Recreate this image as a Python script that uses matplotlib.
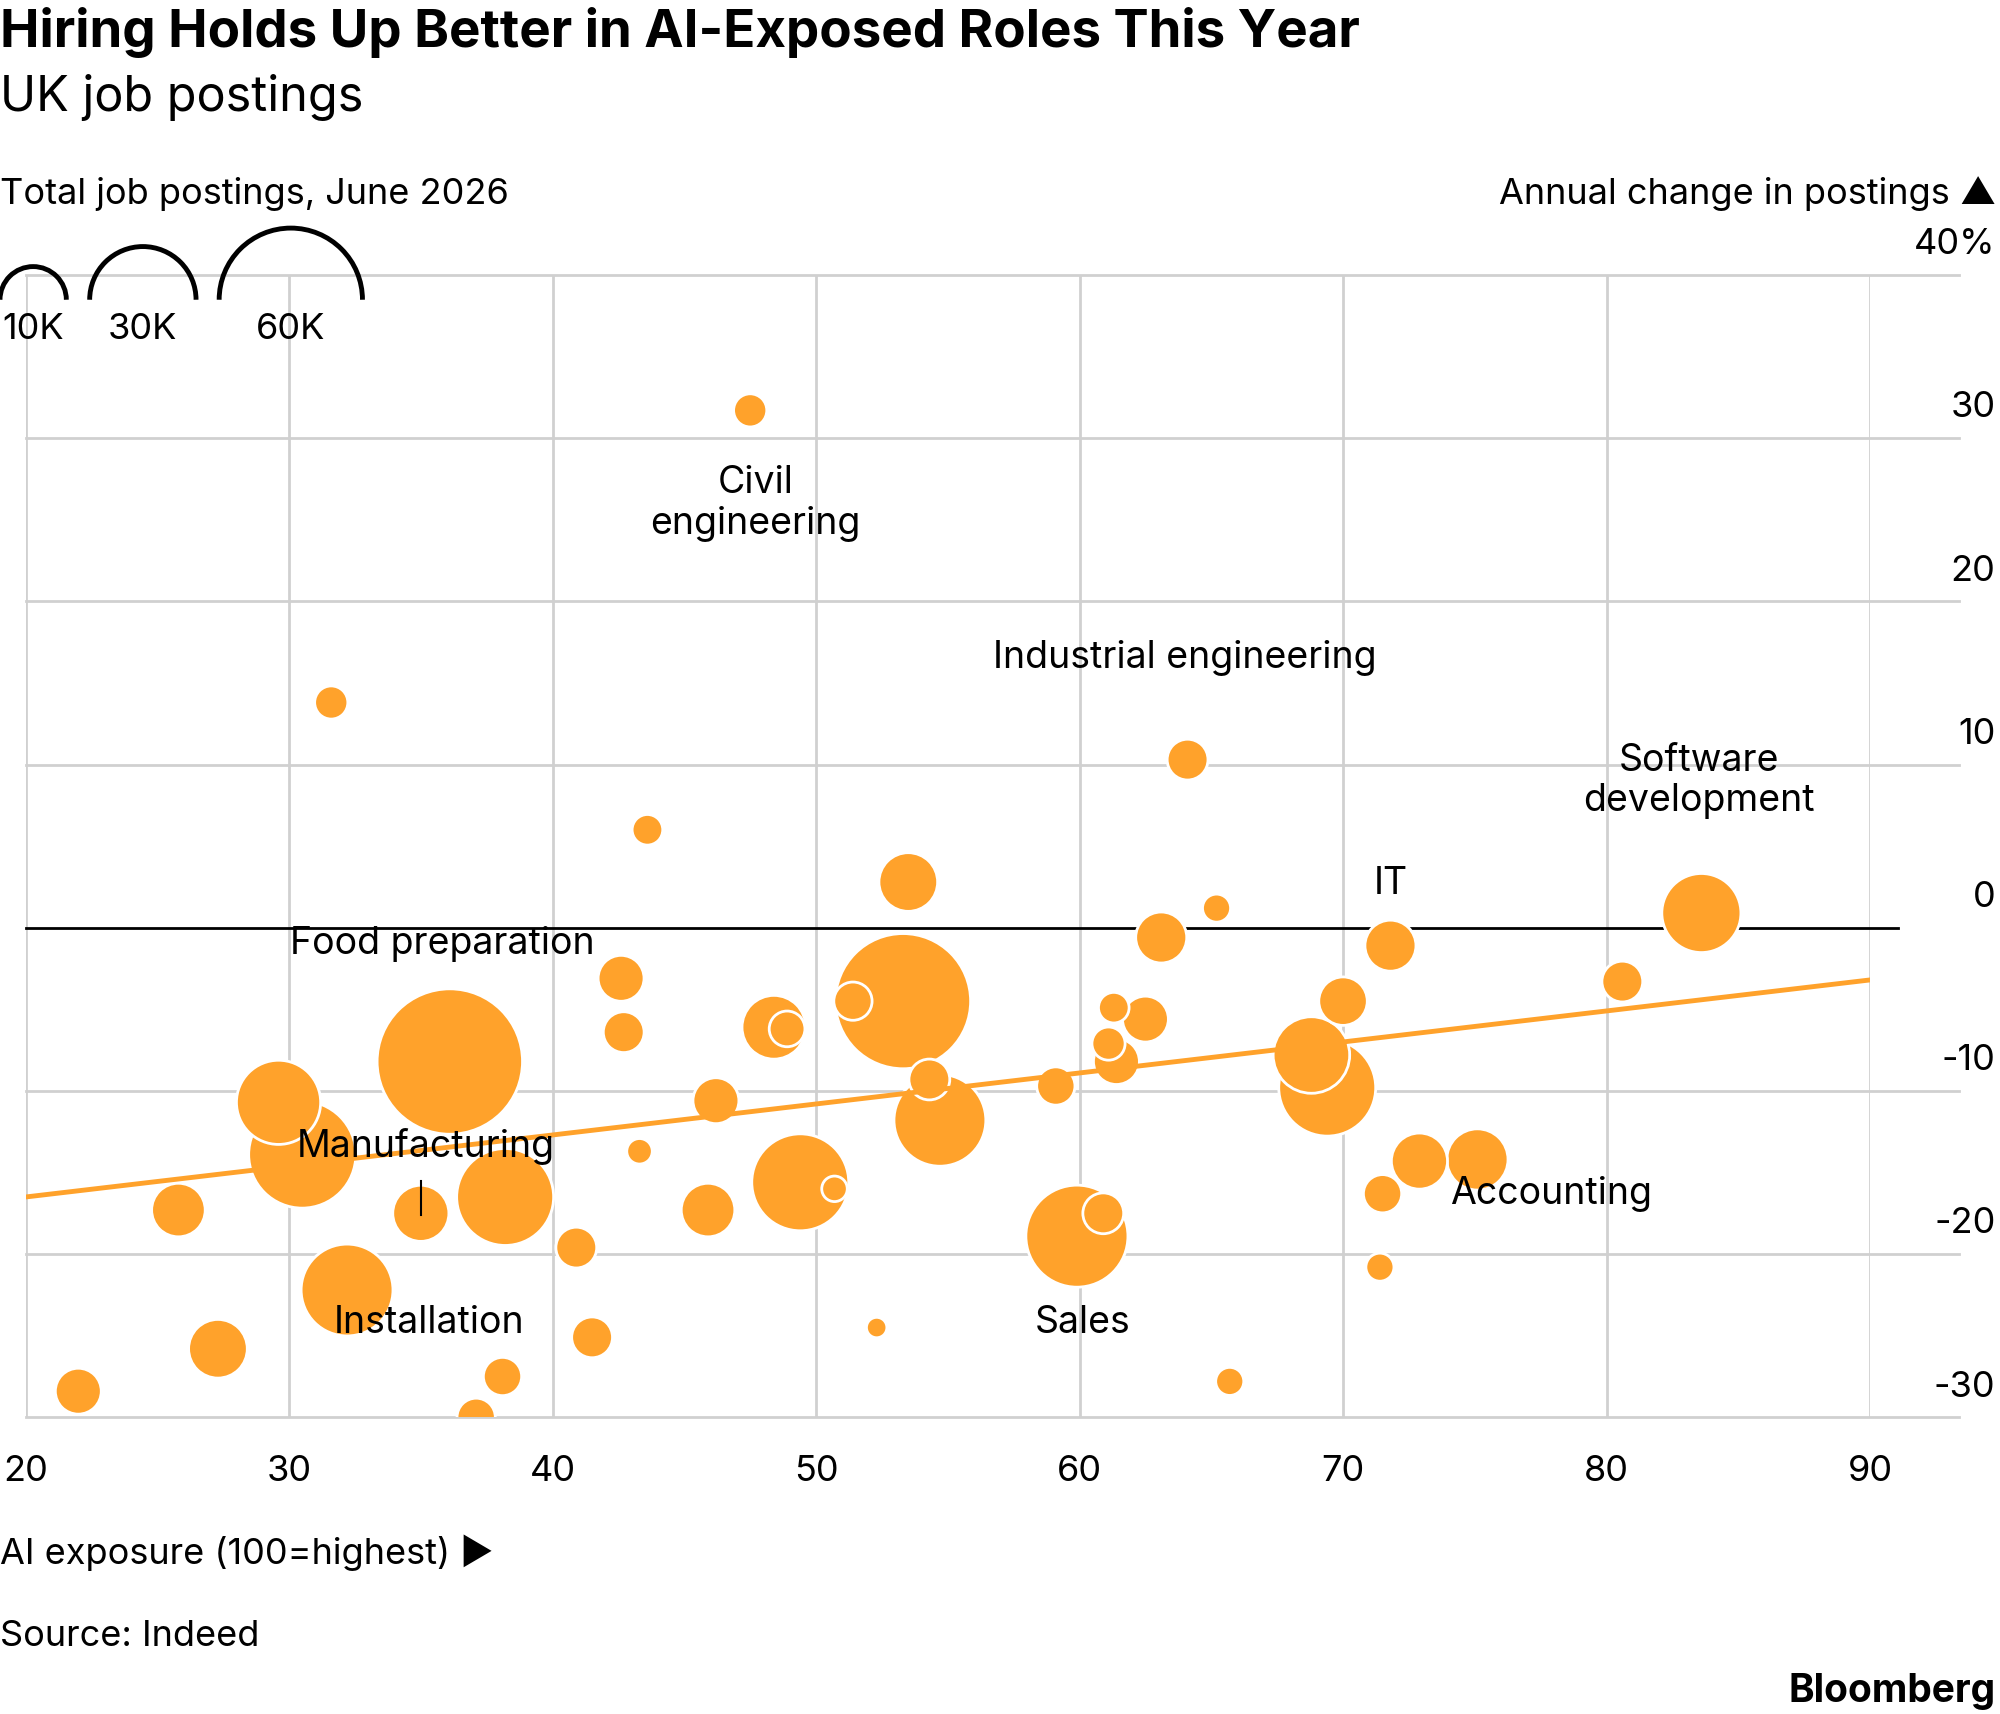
import numpy as np
import matplotlib
matplotlib.use("Agg")
import matplotlib.pyplot as plt
from matplotlib.patches import Arc

plt.rcParams['font.family'] = ['Inter', 'DejaVu Sans']

# AI exposure, annual change (%), bubble radius in reference pixels
exposure = [47.5, 31.6, 64.1, 43.6, 53.5, 65.2, 83.6, 71.8, 63.1, 80.6, 42.6, 42.7, 48.4, 48.9,
            51.4, 53.3, 70.0, 62.5, 61.3, 61.1, 61.4, 36.1, 68.8, 69.4, 54.3, 54.7, 59.1, 46.2,
            29.6, 30.5, 43.3, 49.4, 50.7, 72.9, 75.1, 71.5, 38.2, 35.0, 25.8, 45.9, 60.9, 59.9,
            40.9, 32.2, 71.4, 27.3, 41.5, 52.3, 38.1, 22.0, 65.7, 37.1]
change = [31.7, 13.8, 10.3, 6.0, 2.8, 1.2, 0.9, -1.1, -0.6, -3.3, -3.1, -6.4, -6.1, -6.2,
          -4.5, -4.5, -4.5, -5.6, -4.9, -7.1, -8.2, -8.2, -7.8, -9.8, -9.3, -11.8, -9.7, -10.6,
          -10.7, -13.9, -13.7, -15.6, -16.0, -14.3, -14.2, -16.3, -16.5, -17.5, -17.3, -17.3, -17.5, -18.9,
          -19.6, -22.2, -20.8, -25.8, -25.1, -24.5, -27.5, -28.4, -27.8, -30.0]
radii = [13, 13, 16, 12, 23, 11, 31, 20, 20, 16, 18, 16, 25, 14,
         15, 53, 19, 18, 12, 13, 18, 57, 30, 38, 16, 36, 15, 18,
         33, 42, 10, 38, 10, 22, 24, 15, 38, 22, 21, 21, 16, 40,
         16, 36, 11, 23, 16, 8, 15, 18, 11, 15]
postings = [10 * (r / 26) ** (1 / 0.43) for r in radii]  # thousands

trend_x = [20, 90]
trend_y = [-16.5, -3.2]

labels = [("Civil\nengineering", 47.7, 26.0), ("Industrial engineering", 64.0, 16.5),
          ("Software\ndevelopment", 83.5, 9.0), ("IT", 71.8, 2.7),
          ("Food preparation", 35.8, -1.0), ("Manufacturing", 35.2, -13.4),
          ("Accounting", 77.9, -16.3), ("Installation", 35.3, -24.2), ("Sales", 60.1, -24.2)]

ORANGE = "#ffa22b"
PX2PT = 1.2755 * 0.72


def radius_of(v):
    return 26 * (v / 10) ** 0.43


def size_of(v):
    r = radius_of(v) * PX2PT
    return (2 * r) ** 2


fig = plt.figure(figsize=(20, 17.14), dpi=100)
ax = fig.add_axes([0.0128, 0.1731, 0.9222, 0.6665])
ax.set_xlim(20, 90)
ax.set_ylim(-30, 40)
for s in ax.spines.values():
    s.set_visible(False)
ax.set_xticks([])
ax.set_yticks([])
for x in range(20, 91, 10):
    ax.axvline(x, color="#d0d0d0", lw=2, zorder=0)
for y in range(-30, 41, 10):
    if y != 0:
        ax.axhline(y, color="#d0d0d0", lw=2, zorder=0, xmax=1.048, clip_on=False)
ax.axhline(0, color="black", lw=2, zorder=1, xmax=1.015, clip_on=False)

order = np.argsort(postings)[::-1]
ax.scatter(np.array(exposure)[order], np.array(change)[order],
           s=[size_of(postings[i]) for i in order], color=ORANGE,
           edgecolor="white", linewidth=2, zorder=3)
ax.plot(trend_x, trend_y, color=ORANGE, lw=3.5, zorder=4)

for t, x, y in labels:
    ax.text(x, y, t, fontsize=27, ha="center", va="center", zorder=5, linespacing=1.15)
ax.plot([35, 35], [-15.5, -17.6], color="black", lw=1.5, zorder=5)

for y in range(-30, 41, 10):
    lab = f"{y}%" if y == 40 else str(y)
    ax.text(1.068, (y + 30) / 70 + 0.012, lab, transform=ax.transAxes, fontsize=26,
            ha="right", va="bottom")
for x in range(20, 91, 10):
    ax.text(x, -33.3, str(x), fontsize=26, ha="center", va="center")

fig.text(0.0, 0.981, "Hiring Holds Up Better in AI-Exposed Roles This Year", fontsize=38,
         fontweight="bold", va="center")
fig.text(0.0, 0.943, "UK job postings", fontsize=35, va="center")
fig.text(0.0, 0.887, "Total job postings, June 2026", fontsize=26, va="center")
fig.text(0.998, 0.887, "Annual change in postings \u25B2", fontsize=26, va="center", ha="right")
fig.text(0.0, 0.094, "AI exposure (100=highest) \u25B6", fontsize=26, va="center")
fig.text(0.0, 0.045, "Source: Indeed", fontsize=26, va="center")
fig.text(0.998, 0.013, "Bloomberg", fontsize=28, fontweight="bold", va="center", ha="right")

# size legend (semicircles, in pixels of a 2000 wide figure)
W, H = 2000, 1714
base_y = 1714 - 235 * 1.2755
for v, cx in [(10, 26), (30, 112), (60, 228)]:
    r = radius_of(v) * 1.2755
    cxp = cx * 1.2755
    arc = Arc((cxp / W, base_y / H), 2 * r / W, 2 * r / H, theta1=0, theta2=180,
              transform=fig.transFigure, color="black", lw=3.5)
    fig.add_artist(arc)
    fig.text(cxp / W, 1 - 258 * 1.2755 / H, f"{v}K", fontsize=26, ha="center", va="center")

fig.savefig("out.png")
